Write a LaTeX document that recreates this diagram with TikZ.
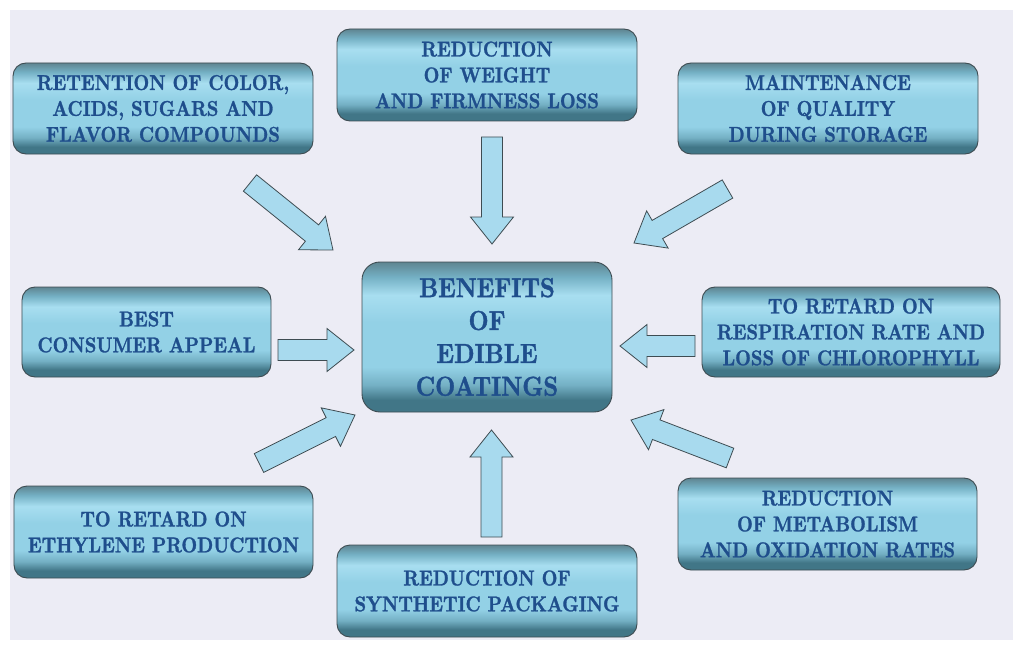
\documentclass[tikz,border=0pt]{standalone}
\usepackage{fontspec}
\newfontfamily\lmx{lmroman10-bold}[Extension=.otf, FakeStretch=0.85, FakeBold=1.3]
\usetikzlibrary{calc}
\definecolor{pagebg}{HTML}{ECECF5}
\definecolor{bdark}{HTML}{417687}
\definecolor{btop}{HTML}{5F8591}
\definecolor{bmid}{HTML}{74B0C4}
\definecolor{blight}{HTML}{A8DEF0}
\definecolor{bcore}{HTML}{93D1E6}
\definecolor{txtblue}{HTML}{1F4E8C}
\definecolor{arrfill}{HTML}{A8DAEE}
\definecolor{edgegray}{HTML}{3E4C52}
\pgfdeclareverticalshading{boxshade}{100bp}{color(0bp)=(bdark); color(25bp)=(bdark); color(29bp)=(bdark); color(34bp)=(bmid); color(40bp)=(bcore); color(55bp)=(bcore); color(64bp)=(blight); color(70bp)=(bmid); color(75bp)=(btop); color(100bp)=(btop)}
\tikzset{
 benefit/.style={draw=edgegray, line width=0.9bp, rounded corners=13bp, shade, shading=boxshade, align=center, text=txtblue, font=\fontsize{21.5}{26}\selectfont\lmx, inner sep=0pt},
 hub/.style={benefit, font=\fontsize{27.5}{33}\selectfont\lmx, rounded corners=18bp},
 barrow/.style={draw=edgegray, fill=arrfill, line width=0.8bp, line join=miter},
}
\newcommand\blockarr[3]{%
 \coordinate (#1-h) at ($(#3)!27bp!(#2)$);
 \draw[barrow] ($(#2)!10.5bp!90:(#3)$) -- ($(#1-h)!10.5bp!90:(#3)$) -- ($(#1-h)!21.5bp!90:(#3)$) -- (#3) -- ($(#1-h)!21.5bp!-90:(#3)$) -- ($(#1-h)!10.5bp!-90:(#3)$) -- ($(#2)!10.5bp!-90:(#3)$) -- cycle;}
\begin{document}
\begin{tikzpicture}[x=1bp,y=-1bp]
\useasboundingbox (0,0) rectangle (1024,656);
\fill[white] (0,0) rectangle (1024,656);
\fill[pagebg] (10,10) rectangle (1013,640);

\node[benefit, minimum width=300bp, minimum height=91bp] (tl) at (163,108.5) {RETENTION OF COLOR,\\ACIDS, SUGARS AND\\FLAVOR COMPOUNDS};
\node[benefit, minimum width=300bp, minimum height=92bp] (tc) at (487,75) {REDUCTION\\OF WEIGHT\\AND FIRMNESS LOSS};
\node[benefit, minimum width=300bp, minimum height=91bp] (tr) at (828,108.5) {MAINTENANCE\\OF QUALITY\\DURING STORAGE};
\node[benefit, minimum width=249bp, minimum height=90bp] (ml) at (146.5,332) {BEST\\CONSUMER APPEAL};
\node[hub, minimum width=250bp, minimum height=150bp] (c) at (487,337) {BENEFITS\\OF\\EDIBLE\\COATINGS};
\node[benefit, minimum width=298bp, minimum height=90bp] (mr) at (851,332) {TO RETARD ON\\RESPIRATION RATE AND\\LOSS OF CHLOROPHYLL};
\node[benefit, minimum width=299bp, minimum height=92bp] (bl) at (163.5,532) {TO RETARD ON\\ETHYLENE PRODUCTION};
\node[benefit, minimum width=300bp, minimum height=92bp] (bc) at (487,591) {REDUCTION OF\\SYNTHETIC PACKAGING};
\node[benefit, minimum width=299bp, minimum height=92bp] (br) at (827.5,524) {REDUCTION\\OF METABOLISM\\AND OXIDATION RATES};

\coordinate (a1t) at (250,183); \coordinate (a1p) at (333,250);
\coordinate (a2t) at (492,137); \coordinate (a2p) at (492,244);
\coordinate (a3t) at (727.5,189); \coordinate (a3p) at (634,243);
\coordinate (a4t) at (278,350); \coordinate (a4p) at (354,350);
\coordinate (a5t) at (695,346); \coordinate (a5p) at (620,346);
\coordinate (a6t) at (259,463); \coordinate (a6p) at (355,415);
\coordinate (a7t) at (491.5,537); \coordinate (a7p) at (491.5,430);
\coordinate (a8t) at (730,458); \coordinate (a8p) at (631,420);
\blockarr{a1}{a1t}{a1p}
\blockarr{a2}{a2t}{a2p}
\blockarr{a3}{a3t}{a3p}
\blockarr{a4}{a4t}{a4p}
\blockarr{a5}{a5t}{a5p}
\blockarr{a6}{a6t}{a6p}
\blockarr{a7}{a7t}{a7p}
\blockarr{a8}{a8t}{a8p}
\end{tikzpicture}
\end{document}
